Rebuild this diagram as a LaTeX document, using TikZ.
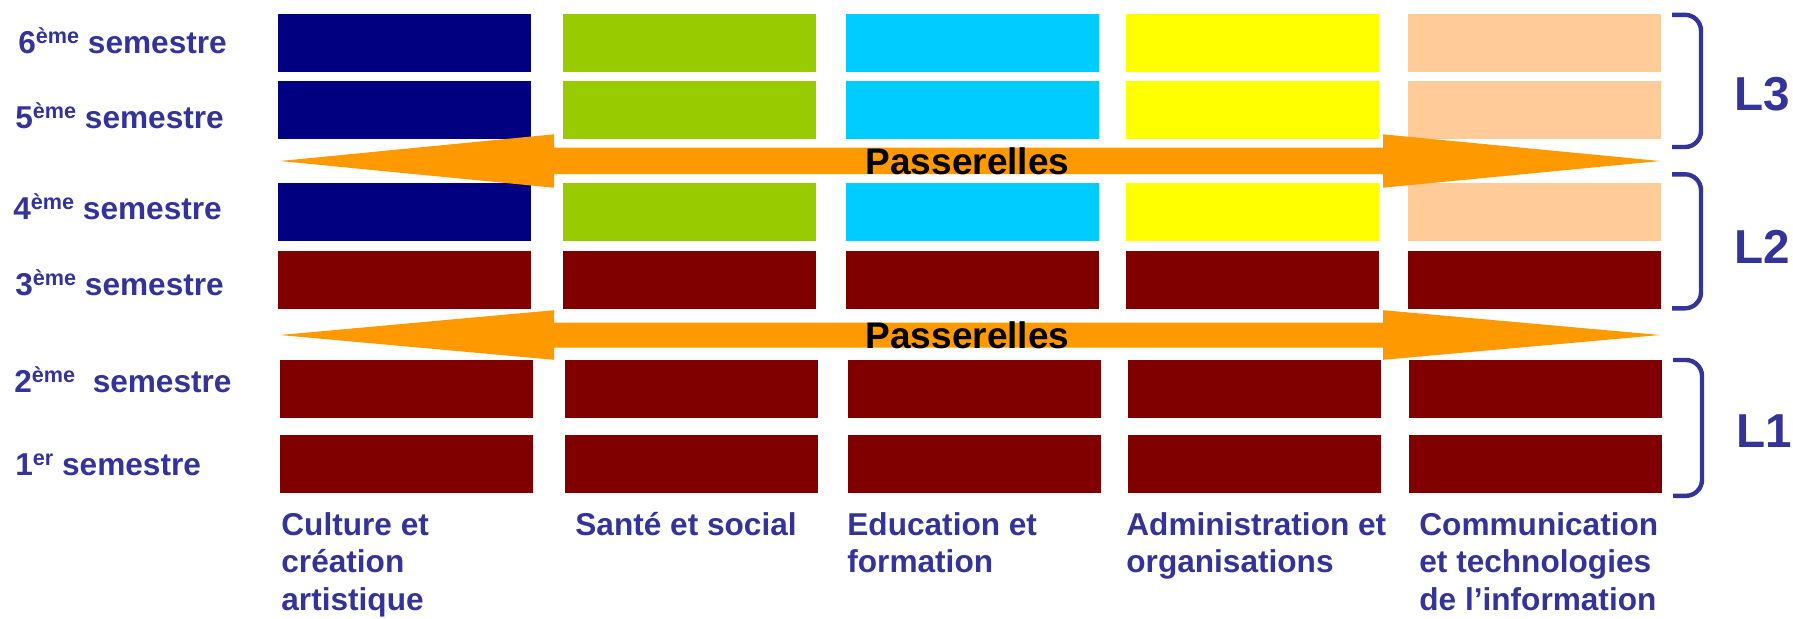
\documentclass[tikz,border=0pt]{standalone}
\usepackage{fontspec}
\setmainfont{Liberation Sans}
\definecolor{navyc}{HTML}{000080}
\definecolor{greenc}{HTML}{99CC00}
\definecolor{cyanc}{HTML}{00CCFF}
\definecolor{yellowc}{HTML}{FFFF00}
\definecolor{peachc}{HTML}{FFCC99}
\definecolor{dredc}{HTML}{800000}
\definecolor{orngc}{HTML}{FF9900}
\definecolor{lblc}{HTML}{333399}
\newcommand\supx[1]{\raisebox{5pt}{\fontsize{10.8}{12}\selectfont #1}}
\begin{document}
\begin{tikzpicture}[x=0.5pt,y=-0.5pt,
  cell/.style={draw=none,inner sep=0pt,minimum width=126.5pt,minimum height=28.85pt},
  sem/.style={anchor=base west,inner sep=0pt,text=lblc,font=\fontsize{15.8}{19}\selectfont\bfseries},
  bottomlbl/.style={anchor=base west,inner sep=0pt,text=lblc,font=\fontsize{15.8}{18.6}\selectfont\bfseries},
  pass/.style={anchor=base,inner sep=0pt,text=black,font=\fontsize{18.5}{22}\selectfont\bfseries},
  lvl/.style={anchor=base west,inner sep=0pt,text=lblc,font=\fontsize{23.8}{27}\selectfont\bfseries},
  brk/.style={draw=lblc,line width=2.2pt,rounded corners=8pt},
  arr/.style={fill=orngc}]
\useasboundingbox (0,0) rectangle (1793,618);
% cells
\foreach \y/\n in {42.85/6,109.85/5,211.85/4}{
  \foreach \x/\c/\k in {404/navyc/a,689/greenc/b,972/cyanc/c,1252/yellowc/d,1534.5/peachc/e}{
    \node[cell,fill=\c] (s\n\k) at (\x,\y) {};
  }}
\foreach \x/\k in {404/a,689/b,972/c,1252/d,1534.5/e}{
  \node[cell,fill=dredc] (s3\k) at (\x,279.85) {};
}
\foreach \y/\n in {388.85/2,463.85/1}{
  \foreach \x/\k in {406/a,691/b,974/c,1254.5/d,1535.5/e}{
    \node[cell,fill=dredc] (s\n\k) at (\x,\y) {};
  }}
% double arrows
\fill[arr] (280,161) -- (554,134.3) -- (554,147.5) -- (1383,147.5) -- (1383,134.3) -- (1660,161)
  -- (1383,187.7) -- (1383,174) -- (554,174) -- (554,187.7) -- cycle;
\fill[arr] (280,335) -- (554,310.2) -- (554,322.5) -- (1383,322.5) -- (1383,310.2) -- (1660,335)
  -- (1383,359.8) -- (1383,347.5) -- (554,347.5) -- (554,359.8) -- cycle;
\node[pass] (p1) at (967.5,174) {Passerelles};
\node[pass] (p2) at (967.5,348) {Passerelles};
% semester labels
\node[sem] (l6) at (18,53.3) {6\supx{ème} semestre};
\node[sem] (l5) at (15,128.5) {5\supx{ème} semestre};
\node[sem] (l4) at (13,219) {4\supx{ème} semestre};
\node[sem] (l3) at (15,295) {3\supx{ème} semestre};
\node[sem] (l2) at (14,392.3) {2\supx{ème}\ \ semestre};
\node[sem] (l1) at (15,475.7) {1\supx{er} semestre};
% brackets
\draw[brk] (1672,14.8) -- (1701,14.8) -- (1701,147) -- (1672,147);
\draw[brk] (1672,174.3) -- (1701,174.3) -- (1701,308.3) -- (1672,308.3);
\draw[brk] (1673,360) -- (1702,360) -- (1702,495.8) -- (1673,495.8);
\node[lvl] (L3) at (1734,110) {L3};
\node[lvl] (L2) at (1734,263.3) {L2};
\node[lvl] (L1) at (1736,447.3) {L1};
% domain labels
\node[bottomlbl] (d1) at (281,535.7) {\begin{tabular}[t]{@{}l@{}}Culture et\\création\\artistique\end{tabular}};
\node[bottomlbl] (d2) at (575,535.7) {\begin{tabular}[t]{@{}l@{}}Santé et social\end{tabular}};
\node[bottomlbl] (d3) at (847,535.7) {\begin{tabular}[t]{@{}l@{}}Education et\\formation\end{tabular}};
\node[bottomlbl] (d4) at (1126,535.7) {\begin{tabular}[t]{@{}l@{}}Administration et\\organisations\end{tabular}};
\node[bottomlbl] (d5) at (1419,535.7) {\begin{tabular}[t]{@{}l@{}}Communication\\et technologies\\de l’information\end{tabular}};
\end{tikzpicture}
\end{document}
